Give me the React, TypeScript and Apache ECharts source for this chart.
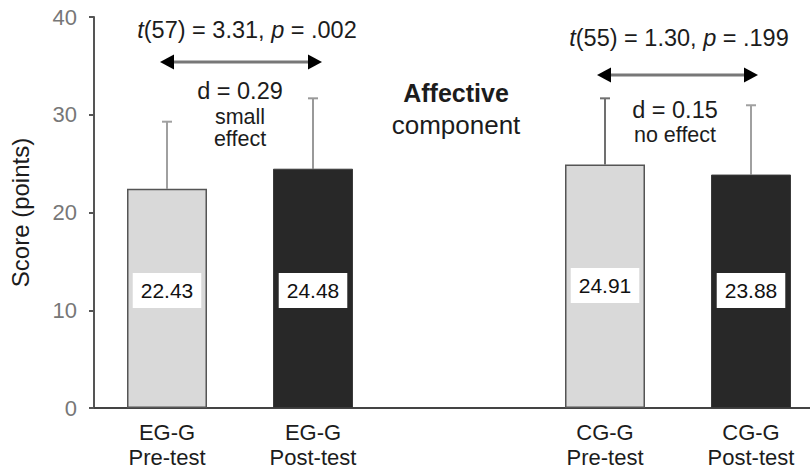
import React, { useEffect, useRef } from "react";
import * as echarts from "echarts";

const categories = ["EG-G\nPre-test", "EG-G\nPost-test", "", "CG-G\nPre-test", "CG-G\nPost-test"];
const means = [22.43, 24.48, null, 24.91, 23.88];
const sds = [6.86, 7.2, null, 6.77, 7.09];
const yTicks = { min: 0, max: 40, interval: 10 };

const FONT = "'Liberation Sans', Arial, sans-serif";
const TXT = "#1c1c1c";

function arrow(x1: number, x2: number, y: number) {
  const h = 14;
  const w = 7.5;
  return [
    { type: "line", shape: { x1: x1 + h - 2, y1: y, x2: x2 - h + 2, y2: y }, style: { stroke: "#777", lineWidth: 3 } },
    { type: "polygon", shape: { points: [[x1, y], [x1 + h, y - w], [x1 + h, y + w]] }, style: { fill: "#000" } },
    { type: "polygon", shape: { points: [[x2, y], [x2 - h, y - w], [x2 - h, y + w]] }, style: { fill: "#000" } },
  ];
}

function txt(text: string, x: number, y: number, size: number, bold = false, rich?: any) {
  return {
    type: "text",
    x,
    y,
    style: {
      text,
      fill: TXT,
      fontFamily: FONT,
      fontSize: size,
      fontWeight: bold ? "bold" : "normal",
      align: "center",
      verticalAlign: "middle",
      rich,
    },
  };
}

export default function App() {
  const ref = useRef<HTMLDivElement>(null);
  useEffect(() => {
    document.body.style.margin = "0";
    const chart = echarts.init(ref.current!, undefined, { renderer: "svg" });
    const barData = means.map((v, i) => {
      if (v === null) return { value: null };
      const light = i === 0 || i === 3;
      return {
        value: v,
        itemStyle: light
          ? { color: "#d9d9d9", borderColor: "#555", borderWidth: 1.5 }
          : { color: "#282828", borderColor: "#3a3a3a", borderWidth: 1 },
        label: { distance: i === 3 ? 105 : 100 },
      };
    });
    const errColors = ["#a0a0a0", "#999", "", "#707070", "#a0a0a0"];
    const errData = means
      .map((v, i) => (v === null ? null : [i, v, sds[i] as number]))
      .filter((d) => d !== null);
    const italicRich = {
      i: { fontStyle: "italic", fontSize: 23.5, fontFamily: FONT, color: TXT },
      n: { fontSize: 23.5, fontFamily: FONT, color: TXT },
    };
    chart.setOption({
      animation: false,
      grid: { left: 94, top: 17, height: 391, right: 6, outerBoundsMode: "none", containLabel: false },
      xAxis: {
        type: "category",
        data: categories,
        axisLine: { lineStyle: { color: "#444", width: 2 } },
        axisTick: { show: false },
        axisLabel: { fontSize: 22, lineHeight: 25, color: TXT, fontFamily: FONT, margin: 12, interval: 0 },
      },
      yAxis: {
        type: "value",
        min: yTicks.min,
        max: yTicks.max,
        interval: yTicks.interval,
        name: "Score (points)",
        nameLocation: "middle",
        nameRotate: 90,
        nameGap: 62,
        nameTextStyle: { fontSize: 24, color: TXT, fontFamily: FONT },
        axisLine: { show: true, lineStyle: { color: "#555", width: 2 } },
        axisTick: { show: true, length: 5, lineStyle: { color: "#555", width: 2 } },
        axisLabel: { fontSize: 22, color: "#777", fontFamily: FONT, margin: 17 },
        splitLine: { show: false },
      },
      series: [
        {
          type: "custom",
          z: 1,
          data: errData,
          renderItem: (params: any, api: any) => {
            const idx = api.value(0);
            const v = api.value(1);
            const sd = api.value(2);
            const p0 = api.coord([idx, v]);
            const p1 = api.coord([idx, v + sd]);
            const c = errColors[idx] || "#999";
            return {
              type: "group",
              children: [
                { type: "line", shape: { x1: p0[0], y1: p0[1], x2: p1[0], y2: p1[1] }, style: { stroke: c, lineWidth: 2 } },
                { type: "line", shape: { x1: p1[0] - 5, y1: p1[1], x2: p1[0] + 5, y2: p1[1] }, style: { stroke: c, lineWidth: 2 } },
              ],
            };
          },
        },
        {
          type: "bar",
          z: 2,
          barWidth: 80,
          data: barData,
          label: {
            show: true,
            position: "insideBottom",
            formatter: (p: any) => Number(p.value).toFixed(2),
            backgroundColor: "#fff",
            padding: [6, 8, 6, 8],
            fontSize: 21,
            lineHeight: 23,
            color: "#111",
            fontFamily: FONT,
          },
        },
      ],
      graphic: [
        txt("{i|t}{n|(57) = 3.31, }{i|p}{n| = .002}", 247, 30, 23.5, false, italicRich),
        ...arrow(160, 322, 62),
        txt("d = 0.29", 240, 91, 23.5),
        txt("small", 240, 117, 21.5),
        txt("effect", 240, 139, 21.5),
        txt("Affective", 456, 93, 25, true),
        txt("component", 456, 125, 26),
        txt("{i|t}{n|(55) = 1.30, }{i|p}{n| = .199}", 679, 38, 23.5, false, italicRich),
        ...arrow(597, 758, 75),
        txt("d = 0.15", 675, 110, 23.5),
        txt("no effect", 675, 135, 21.5),
      ],
    });
    return () => chart.dispose();
  }, []);
  return (
    <div style={{ width: 810, height: 471, overflow: "hidden", position: "relative" }}>
      <div ref={ref} style={{ width: 830, height: 471 }} />
    </div>
  );
}
